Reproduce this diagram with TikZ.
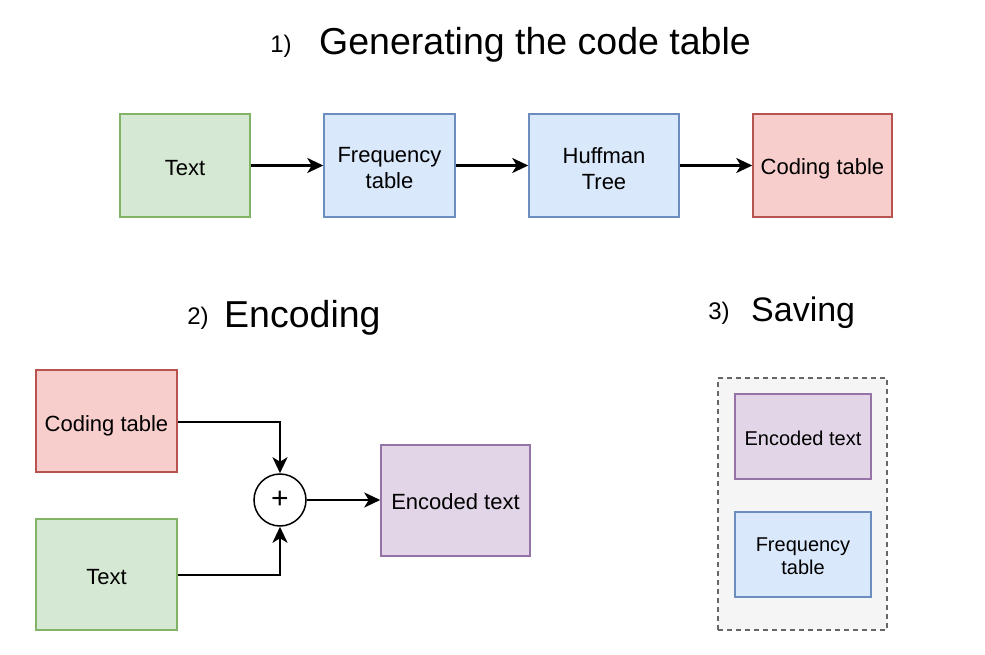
\documentclass[tikz,border=0pt]{standalone}
\usepackage{fontspec}
\setmainfont{Liberation Sans}
\usetikzlibrary{arrows.meta}
\definecolor{gfill}{HTML}{D5E8D4}\definecolor{gline}{HTML}{82B366}
\definecolor{bfill}{HTML}{DAE8FC}\definecolor{bline}{HTML}{6C8EBF}
\definecolor{rfill}{HTML}{F8CECC}\definecolor{rline}{HTML}{B85450}
\definecolor{pfill}{HTML}{E1D5E7}\definecolor{pline}{HTML}{9673A6}
\definecolor{cfill}{HTML}{F5F5F5}\definecolor{cline}{HTML}{666666}
\tikzset{
  box/.style={draw, rectangle, inner sep=0pt, line width=1.5pt},
  gbox/.style={box, fill=gfill, draw=gline},
  bbox/.style={box, fill=bfill, draw=bline},
  rbox/.style={box, fill=rfill, draw=rline},
  pbox/.style={box, fill=pfill, draw=pline},
  lbl/.style={inner sep=0pt, align=center, yshift=-3pt, font=\fontsize{22}{26}\selectfont},
  slbl/.style={inner sep=0pt, align=center, yshift=-1.5pt, font=\fontsize{20}{23}\selectfont},
  conn/.style={line width=2.5pt, -{Stealth[length=16pt,width=15pt,inset=4.5pt]}},
  num/.style={inner sep=0pt, font=\fontsize{24}{28}\selectfont},
  title/.style={inner sep=0pt, anchor=west, font=\fontsize{37.5}{40}\selectfont},
}
\begin{document}
\begin{tikzpicture}[x=1pt,y=-1pt]
\useasboundingbox (0,0) rectangle (985,655);
% titles
\node[num] (n1) at (281,46) {1)};
\node[title] (t1) at (319,45) {Generating the code table};
\node[num] (n2) at (198,318) {2)};
\node[title] (t2) at (224,318) {Encoding};
\node[num] (n3) at (719,313) {3)};
\node[title, font=\fontsize{34}{38}\selectfont] (t3) at (751,313) {Saving};
% row 1
\node[gbox, minimum width=130pt, minimum height=103pt, label={[lbl]center:Text}] (text1) at (185,165.5) {};
\node[bbox, minimum width=131pt, minimum height=103pt, label={[lbl]center:Frequency\\table}] (freq1) at (389.5,165.5) {};
\node[bbox, minimum width=150pt, minimum height=103pt, label={[lbl]center:Huffman\\Tree}] (huff) at (604,165.5) {};
\node[rbox, minimum width=139pt, minimum height=103pt, label={[lbl]center:Coding table}] (code1) at (822.5,165.5) {};
\draw[conn] (text1) -- (freq1);
\draw[conn] (freq1) -- (huff);
\draw[conn] (huff) -- (code1);
% section 2
\node[rbox, minimum width=141pt, minimum height=102pt, label={[lbl, yshift=-2pt]center:Coding table}] (code2) at (106.5,421) {};
\node[gbox, minimum width=141pt, minimum height=111pt, label={[lbl]center:Text}] (text2) at (106.5,574.5) {};
\node[draw, circle, line width=1.5pt, fill=white, minimum size=52pt, inner sep=0pt,
  font=\fontsize{30}{30}\selectfont] (plus) at (280,500) {+};
\node[pbox, minimum width=149pt, minimum height=111pt, label={[lbl, yshift=2pt]center:Encoded text}] (enc2) at (455.5,500.5) {};
\draw[conn] (code2.east |- 0,422) -| (plus.north);
\draw[conn] (text2.east |- 0,575) -| (plus.south);
\draw[conn] (plus.east) -- (enc2.west |- plus.east);
% section 3
\node[draw=cline, fill=cfill, line width=1.5pt, dash pattern=on 5pt off 4pt,
  minimum width=169pt, minimum height=252pt, inner sep=0pt] (cont) at (802.5,504) {};
\node[pbox, minimum width=136pt, minimum height=85pt, label={[slbl]center:Encoded text}] (enc3) at (803,436.5) {};
\node[bbox, minimum width=136pt, minimum height=85pt, label={[slbl]center:Frequency\\table}] (freq3) at (803,554.5) {};
\end{tikzpicture}
\end{document}
